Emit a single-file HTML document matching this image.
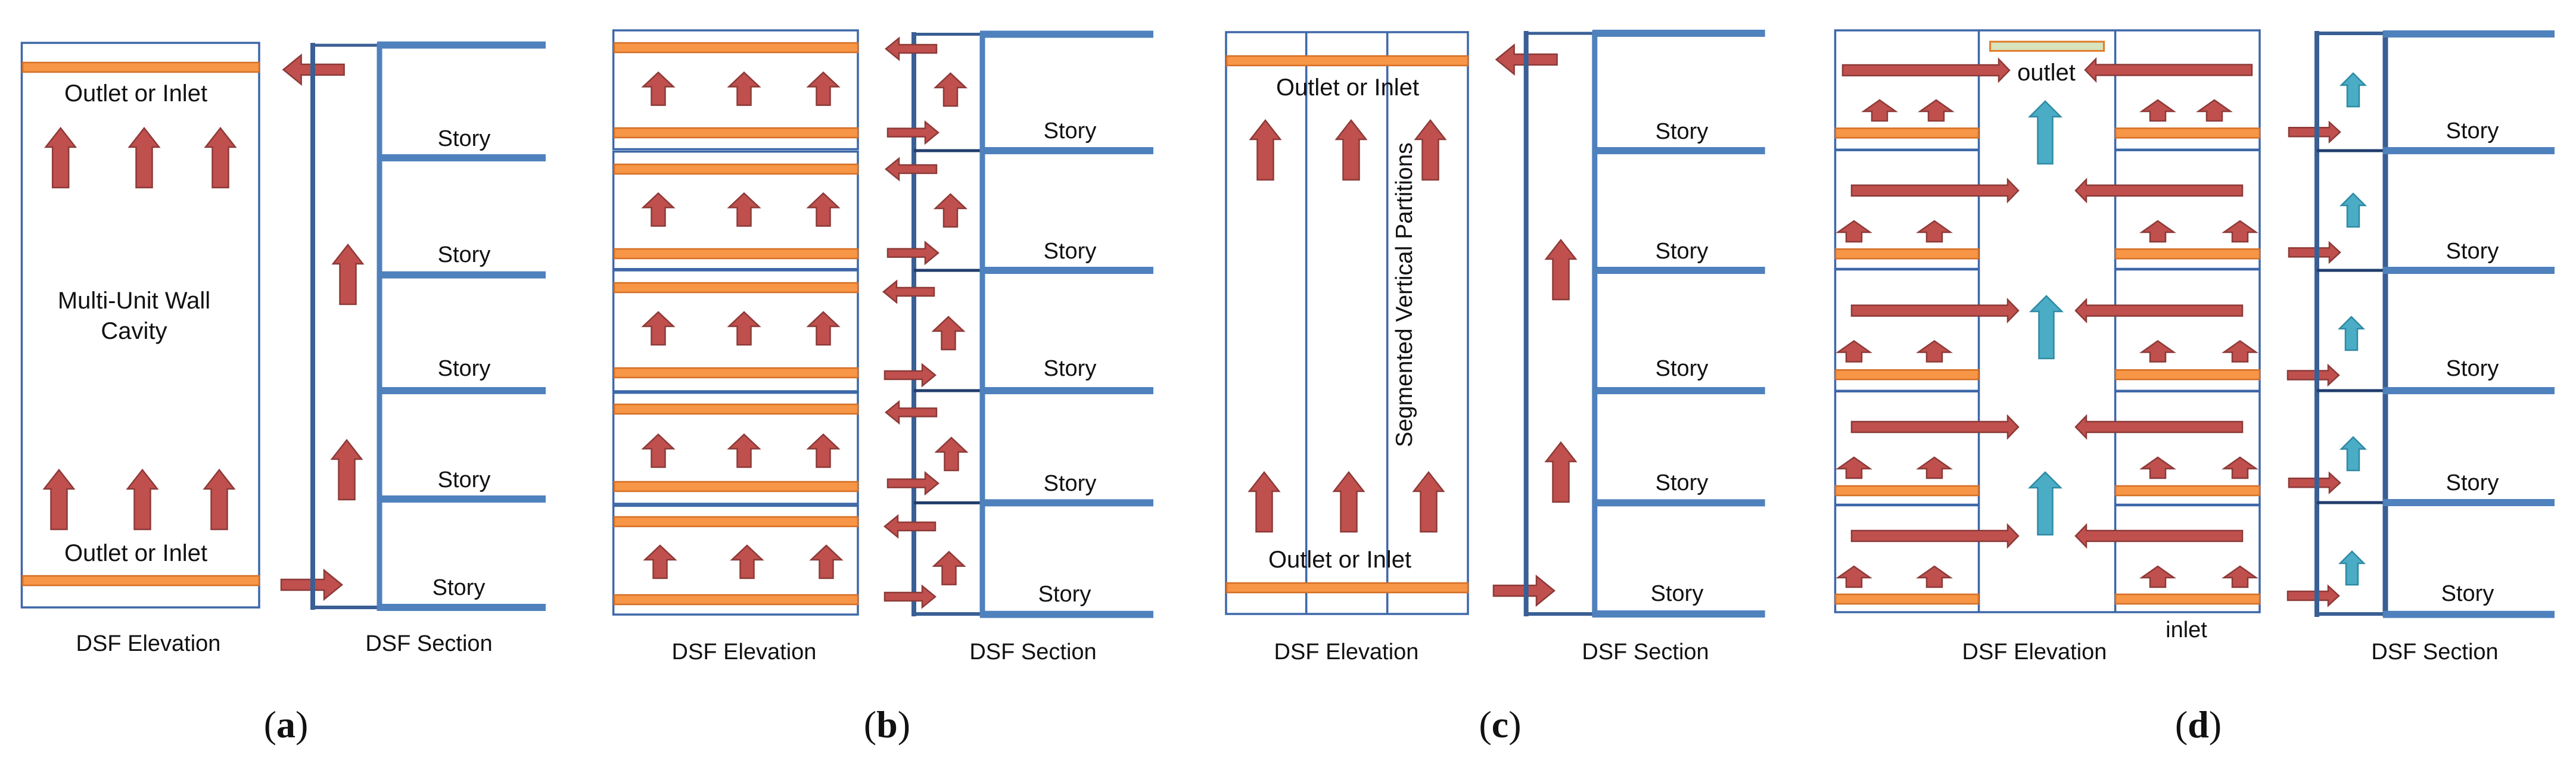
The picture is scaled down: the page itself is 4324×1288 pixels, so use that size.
<!DOCTYPE html>
<html><head><meta charset="utf-8"><style>
html,body{margin:0;padding:0;background:#fff;}
svg{display:block;}
text{font-family:"Liberation Sans",sans-serif;fill:#111;}
.r{fill:#c0504d;stroke:#8c3a38;stroke-width:2.5;}
.b{fill:#4bacc6;stroke:#2e8aa3;stroke-width:2.5;}
.or{fill:#f79646;stroke:#d46f26;stroke-width:2.5;}
.box{fill:none;stroke:#3d67a8;stroke-width:3.5;}
.fl{stroke:#4f81bd;stroke-width:12;}
.sec{stroke:#3a5f95;stroke-width:8;}
.dk{stroke:#1f3d6b;stroke-width:5;}
.lb{font-size:38px;}
.st{font-size:38px;}
.cap{font-family:"Liberation Serif",serif;font-size:64px;}
</style></head><body>
<svg width="4324" height="1288" viewBox="0 0 4324 1288" xmlns="http://www.w3.org/2000/svg">
<defs>
<path id="A1" d="M0,0 L25,32 H13.5 V100 H-13.5 V32 H-25Z"/>
<path id="A2" d="M0,0 L25.5,24 H11.5 V55 H-11.5 V24 H-25.5Z"/>
<path id="A3" d="M0,0 L27,19 H13 V35 H-13 V19 H-27Z"/>
<path id="B1" d="M0,0 L26,26 H12.5 V105 H-12.5 V26 H-26Z"/>
<path id="B2" d="M0,0 L20,20 H10 V56 H-10 V20 H-20Z"/>
<path id="H1" d="M0,0 L-30,-24.5 V-9 H-102 V9 H-30 V24.5Z"/>
<path id="H2" d="M0,0 L-22,-18 V-7 H-85 V7 H-22 V18Z"/>
<path id="H3" d="M0,0 L-18,-18.5 V-9 H-280 V9 H-18 V18.5Z"/>
<path id="H4" d="M0,0 L-18,-16.5 V-7.5 H-86 V7.5 H-18 V16.5Z"/>
</defs>
<rect width="4324" height="1288" fill="#fff"/>

<!-- ===== (a) ===== -->
<rect class="box" x="36.5" y="72" width="398.5" height="948"/>
<rect class="or" x="38" y="105" width="397" height="16"/>
<rect class="or" x="38" y="967" width="397" height="16"/>
<text class="lb" x="228" y="170" text-anchor="middle" style="font-size:40px">Outlet or Inlet</text>
<text class="lb" x="228" y="942" text-anchor="middle" style="font-size:40px">Outlet or Inlet</text>
<text class="lb" x="225" y="518" text-anchor="middle" style="font-size:40px">Multi-Unit Wall</text>
<text class="lb" x="225" y="569" text-anchor="middle" style="font-size:40px">Cavity</text>
<g class="r">
<use href="#A1" x="101.7" y="215"/><use href="#A1" x="242" y="215"/><use href="#A1" x="370" y="215"/>
<use href="#A1" x="99" y="789"/><use href="#A1" x="239" y="789"/><use href="#A1" x="368" y="789"/>
<use href="#A1" x="584" y="411"/><use href="#A1" x="582" y="739"/>
<use href="#H1" transform="translate(475.6,117) scale(-1,1)"/>
<use href="#H1" x="574" y="982"/>
</g>
<line class="sec" x1="525" y1="72" x2="525" y2="1024"/>
<line class="sec" x1="521" y1="76" x2="637" y2="76" style="stroke-width:5"/>
<line class="sec" x1="521" y1="1020" x2="637" y2="1020" style="stroke-width:6"/>
<line class="fl" x1="637" y1="72" x2="637" y2="1026" style="stroke-width:9"/>
<g class="fl"><line x1="633" y1="75.6" x2="916" y2="75.6"/><line x1="633" y1="265" x2="916" y2="265"/><line x1="633" y1="461.6" x2="916" y2="461.6"/><line x1="633" y1="656" x2="916" y2="656"/><line x1="633" y1="838" x2="916" y2="838"/><line x1="633" y1="1020" x2="916" y2="1020"/></g>
<g class="st" text-anchor="middle"><text x="779" y="245">Story</text><text x="779" y="440">Story</text><text x="779" y="631">Story</text><text x="779" y="818">Story</text><text x="770" y="999">Story</text></g>
<text class="lb" x="249" y="1093" text-anchor="middle">DSF Elevation</text>
<text class="lb" x="720" y="1093" text-anchor="middle">DSF Section</text>
<text class="cap" x="480" y="1238" text-anchor="middle">(<tspan font-weight="bold">a</tspan>)</text>

<!-- ===== (b) ===== -->
<rect class="box" x="1029.6" y="51" width="410.4" height="199.5"/>
<rect class="box" x="1029.6" y="254.6" width="410.4" height="197.2"/>
<rect class="box" x="1029.6" y="454" width="410.4" height="203"/>
<rect class="box" x="1029.6" y="659.6" width="410.4" height="186.4"/>
<rect class="box" x="1029.6" y="849.4" width="410.4" height="182.6"/>
<g class="or">
<rect x="1031" y="72" width="409" height="16"/><rect x="1031" y="215" width="409" height="16"/>
<rect x="1031" y="276" width="409" height="16"/><rect x="1031" y="418" width="409" height="16"/>
<rect x="1031" y="475" width="409" height="16"/><rect x="1031" y="618" width="409" height="16"/>
<rect x="1031" y="679" width="409" height="16"/><rect x="1031" y="809" width="409" height="16"/>
<rect x="1031" y="868" width="409" height="16"/><rect x="1031" y="999" width="409" height="16"/>
</g>
<g class="r">
<use href="#A2" x="1105" y="121.6"/><use href="#A2" x="1249" y="121.6"/><use href="#A2" x="1382" y="121.6"/>
<use href="#A2" x="1105" y="324.5"/><use href="#A2" x="1249" y="324.5"/><use href="#A2" x="1382" y="324.5"/>
<use href="#A2" x="1105" y="524"/><use href="#A2" x="1249" y="524"/><use href="#A2" x="1382" y="524"/>
<use href="#A2" x="1105" y="729.5"/><use href="#A2" x="1249" y="729.5"/><use href="#A2" x="1382" y="729.5"/>
<use href="#A2" x="1108" y="916"/><use href="#A2" x="1254" y="916"/><use href="#A2" x="1387" y="916"/>
</g>
<line class="sec" x1="1534" y1="54" x2="1534" y2="1035"/>
<line class="sec" x1="1530" y1="57.5" x2="1649" y2="57.5" style="stroke-width:5"/>
<line class="sec" x1="1530" y1="1031" x2="1649" y2="1031" style="stroke-width:6"/>
<g class="dk"><line x1="1534" y1="253" x2="1649" y2="253"/><line x1="1534" y1="454" x2="1649" y2="454"/><line x1="1534" y1="656" x2="1649" y2="656"/><line x1="1534" y1="844.4" x2="1649" y2="844.4"/></g>
<line class="fl" x1="1649" y1="54" x2="1649" y2="1036" style="stroke-width:9"/>
<g class="fl"><line x1="1645" y1="57.5" x2="1936" y2="57.5"/><line x1="1645" y1="253" x2="1936" y2="253"/><line x1="1645" y1="454" x2="1936" y2="454"/><line x1="1645" y1="656" x2="1936" y2="656"/><line x1="1645" y1="844.4" x2="1936" y2="844.4"/><line x1="1645" y1="1031.7" x2="1936" y2="1031.7"/></g>
<g class="r">
<use href="#H2" transform="translate(1487,82) scale(-1,1)"/><use href="#H2" transform="translate(1487,284) scale(-1,1)"/><use href="#H2" transform="translate(1483,490) scale(-1,1)"/><use href="#H2" transform="translate(1487,692.5) scale(-1,1)"/><use href="#H2" transform="translate(1485,884) scale(-1,1)"/>
<use href="#H2" x="1575" y="222.6"/><use href="#H2" x="1575" y="424.7"/><use href="#H2" x="1570" y="630"/><use href="#H2" x="1575" y="811.6"/><use href="#H2" x="1570" y="1002"/>
<use href="#A2" x="1595.5" y="123"/><use href="#A2" x="1595.5" y="326"/><use href="#A2" x="1592" y="532"/><use href="#A2" x="1597" y="735"/><use href="#A2" x="1593" y="926.6"/>
</g>
<g class="st" text-anchor="middle"><text x="1796" y="232">Story</text><text x="1796" y="434">Story</text><text x="1796" y="631">Story</text><text x="1796" y="824">Story</text><text x="1787" y="1010">Story</text></g>
<text class="lb" x="1249" y="1107" text-anchor="middle">DSF Elevation</text>
<text class="lb" x="1734" y="1107" text-anchor="middle">DSF Section</text>
<text class="cap" x="1489" y="1238" text-anchor="middle">(<tspan font-weight="bold">b</tspan>)</text>

<!-- ===== (c) ===== -->
<rect class="box" x="2058" y="54" width="406" height="977"/>
<line class="box" x1="2192.7" y1="54" x2="2192.7" y2="1031"/>
<line class="box" x1="2328.7" y1="54" x2="2328.7" y2="1031"/>
<rect class="or" x="2059" y="94" width="405" height="16"/>
<rect class="or" x="2059" y="979" width="405" height="16"/>
<text class="lb" x="2262" y="160" text-anchor="middle" style="font-size:40px">Outlet or Inlet</text>
<text class="lb" x="2249" y="953" text-anchor="middle" style="font-size:40px">Outlet or Inlet</text>
<text x="2370" y="495" text-anchor="middle" transform="rotate(-90 2370 495)" style="font-size:39px">Segmented Vertical Partitions</text>
<g class="r">
<use href="#A1" x="2124" y="202"/><use href="#A1" x="2268" y="202"/><use href="#A1" x="2401" y="202"/>
<use href="#A1" x="2122" y="793"/><use href="#A1" x="2264" y="793"/><use href="#A1" x="2398" y="793"/>
<use href="#A1" x="2620" y="403"/><use href="#A1" x="2620" y="743"/>
<use href="#H1" transform="translate(2511.6,100) scale(-1,1)"/>
<use href="#H1" x="2609" y="992"/>
</g>
<line class="sec" x1="2561.7" y1="52" x2="2561.7" y2="1035"/>
<line class="sec" x1="2558" y1="56" x2="2677" y2="56" style="stroke-width:5"/>
<line class="sec" x1="2558" y1="1031" x2="2677" y2="1031" style="stroke-width:6"/>
<line class="fl" x1="2676.8" y1="52" x2="2676.8" y2="1036" style="stroke-width:9"/>
<g class="fl"><line x1="2673" y1="55.9" x2="2962.7" y2="55.9"/><line x1="2673" y1="253" x2="2962.7" y2="253"/><line x1="2673" y1="454" x2="2962.7" y2="454"/><line x1="2673" y1="656" x2="2962.7" y2="656"/><line x1="2673" y1="844.4" x2="2962.7" y2="844.4"/><line x1="2673" y1="1031" x2="2962.7" y2="1031"/></g>
<g class="st" text-anchor="middle"><text x="2823" y="233">Story</text><text x="2823" y="434">Story</text><text x="2823" y="631">Story</text><text x="2823" y="823">Story</text><text x="2815" y="1009">Story</text></g>
<text class="lb" x="2260" y="1107" text-anchor="middle">DSF Elevation</text>
<text class="lb" x="2762" y="1107" text-anchor="middle">DSF Section</text>
<text class="cap" x="2518" y="1238" text-anchor="middle">(<tspan font-weight="bold">c</tspan>)</text>

<!-- ===== (d) ===== -->
<rect class="box" x="3080.5" y="51" width="712.5" height="977"/>
<line class="box" x1="3321.6" y1="51" x2="3321.6" y2="1028"/>
<line class="box" x1="3550.6" y1="51" x2="3550.6" y2="1028"/>
<g class="box" style="stroke-width:4.5">
<line x1="3080" y1="251.7" x2="3321" y2="251.7"/><line x1="3080" y1="452" x2="3321" y2="452"/><line x1="3080" y1="656.7" x2="3321" y2="656.7"/><line x1="3080" y1="848" x2="3321" y2="848"/>
<line x1="3551" y1="251.7" x2="3793" y2="251.7"/><line x1="3551" y1="452" x2="3793" y2="452"/><line x1="3551" y1="656.7" x2="3793" y2="656.7"/><line x1="3551" y1="848" x2="3793" y2="848"/>
</g>
<rect x="3340.6" y="70" width="191" height="15.4" fill="#d7e4bd" stroke="#e07b2a" stroke-width="3"/>
<g class="or">
<rect x="3081" y="215.4" width="240" height="16"/><rect x="3081" y="418.3" width="240" height="16"/><rect x="3081" y="621.2" width="240" height="16"/><rect x="3081" y="816" width="240" height="16"/><rect x="3081" y="998" width="240" height="16"/>
<rect x="3551" y="215.4" width="242" height="16"/><rect x="3551" y="418.3" width="242" height="16"/><rect x="3551" y="621.2" width="242" height="16"/><rect x="3551" y="816" width="242" height="16"/><rect x="3551" y="998" width="242" height="16"/>
</g>
<text x="3435" y="135" text-anchor="middle" style="font-size:40px">outlet</text>
<g class="r">
<use href="#H3" x="3373" y="118"/><use href="#H3" transform="translate(3500,117.5) scale(-1,1)"/>
<use href="#H3" x="3388" y="320"/><use href="#H3" transform="translate(3484,320) scale(-1,1)"/>
<use href="#H3" x="3388" y="521.6"/><use href="#H3" transform="translate(3484,521.6) scale(-1,1)"/>
<use href="#H3" x="3388" y="717"/><use href="#H3" transform="translate(3484,717) scale(-1,1)"/>
<use href="#H3" x="3388" y="900"/><use href="#H3" transform="translate(3484,900) scale(-1,1)"/>
<use href="#A3" x="3155" y="168"/><use href="#A3" x="3250" y="168"/><use href="#A3" x="3622" y="168"/><use href="#A3" x="3717" y="168"/>
<use href="#A3" x="3112" y="371"/><use href="#A3" x="3247" y="371"/><use href="#A3" x="3622" y="371"/><use href="#A3" x="3760" y="371"/>
<use href="#A3" x="3112" y="572.5"/><use href="#A3" x="3247" y="572.5"/><use href="#A3" x="3622" y="572.5"/><use href="#A3" x="3760" y="572.5"/>
<use href="#A3" x="3112" y="768"/><use href="#A3" x="3247" y="768"/><use href="#A3" x="3622" y="768"/><use href="#A3" x="3760" y="768"/>
<use href="#A3" x="3112" y="951"/><use href="#A3" x="3247" y="951"/><use href="#A3" x="3622" y="951"/><use href="#A3" x="3760" y="951"/>
<use href="#H4" x="3928" y="221.8"/><use href="#H4" x="3928" y="423.9"/><use href="#H4" x="3926" y="630"/><use href="#H4" x="3928" y="810.8"/><use href="#H4" x="3926" y="1000.5"/>
</g>
<g class="b">
<use href="#B1" x="3433" y="170"/><use href="#B1" x="3435" y="497"/><use href="#B1" x="3433" y="793"/>
<use href="#B2" x="3950" y="123"/><use href="#B2" x="3950" y="325"/><use href="#B2" x="3947" y="532"/><use href="#B2" x="3950" y="734"/><use href="#B2" x="3948" y="926"/>
</g>
<text x="3670" y="1070" text-anchor="middle" style="font-size:38px">inlet</text>
<line class="sec" x1="3889" y1="52" x2="3889" y2="1036"/>
<line class="sec" x1="3885" y1="56" x2="4004" y2="56" style="stroke-width:6"/>
<line class="sec" x1="3885" y1="1031" x2="4004" y2="1031" style="stroke-width:6"/>
<g class="dk"><line x1="3889" y1="253" x2="4004" y2="253"/><line x1="3889" y1="454" x2="4004" y2="454"/><line x1="3889" y1="656" x2="4004" y2="656"/><line x1="3889" y1="844" x2="4004" y2="844"/></g>
<line class="sec" x1="4004" y1="52" x2="4004" y2="1036" style="stroke-width:9"/>
<g class="fl"><line x1="4000" y1="57" x2="4288" y2="57"/><line x1="4000" y1="253" x2="4288" y2="253"/><line x1="4000" y1="454" x2="4288" y2="454"/><line x1="4000" y1="656" x2="4288" y2="656"/><line x1="4000" y1="844" x2="4288" y2="844"/><line x1="4000" y1="1031.7" x2="4288" y2="1031.7"/></g>
<g class="st" text-anchor="middle"><text x="4150" y="232">Story</text><text x="4150" y="434">Story</text><text x="4150" y="631">Story</text><text x="4150" y="823">Story</text><text x="4142" y="1009">Story</text></g>
<text class="lb" x="3415" y="1107" text-anchor="middle">DSF Elevation</text>
<text class="lb" x="4087" y="1107" text-anchor="middle">DSF Section</text>
<text class="cap" x="3690" y="1238" text-anchor="middle">(<tspan font-weight="bold">d</tspan>)</text>
</svg>
</body></html>
